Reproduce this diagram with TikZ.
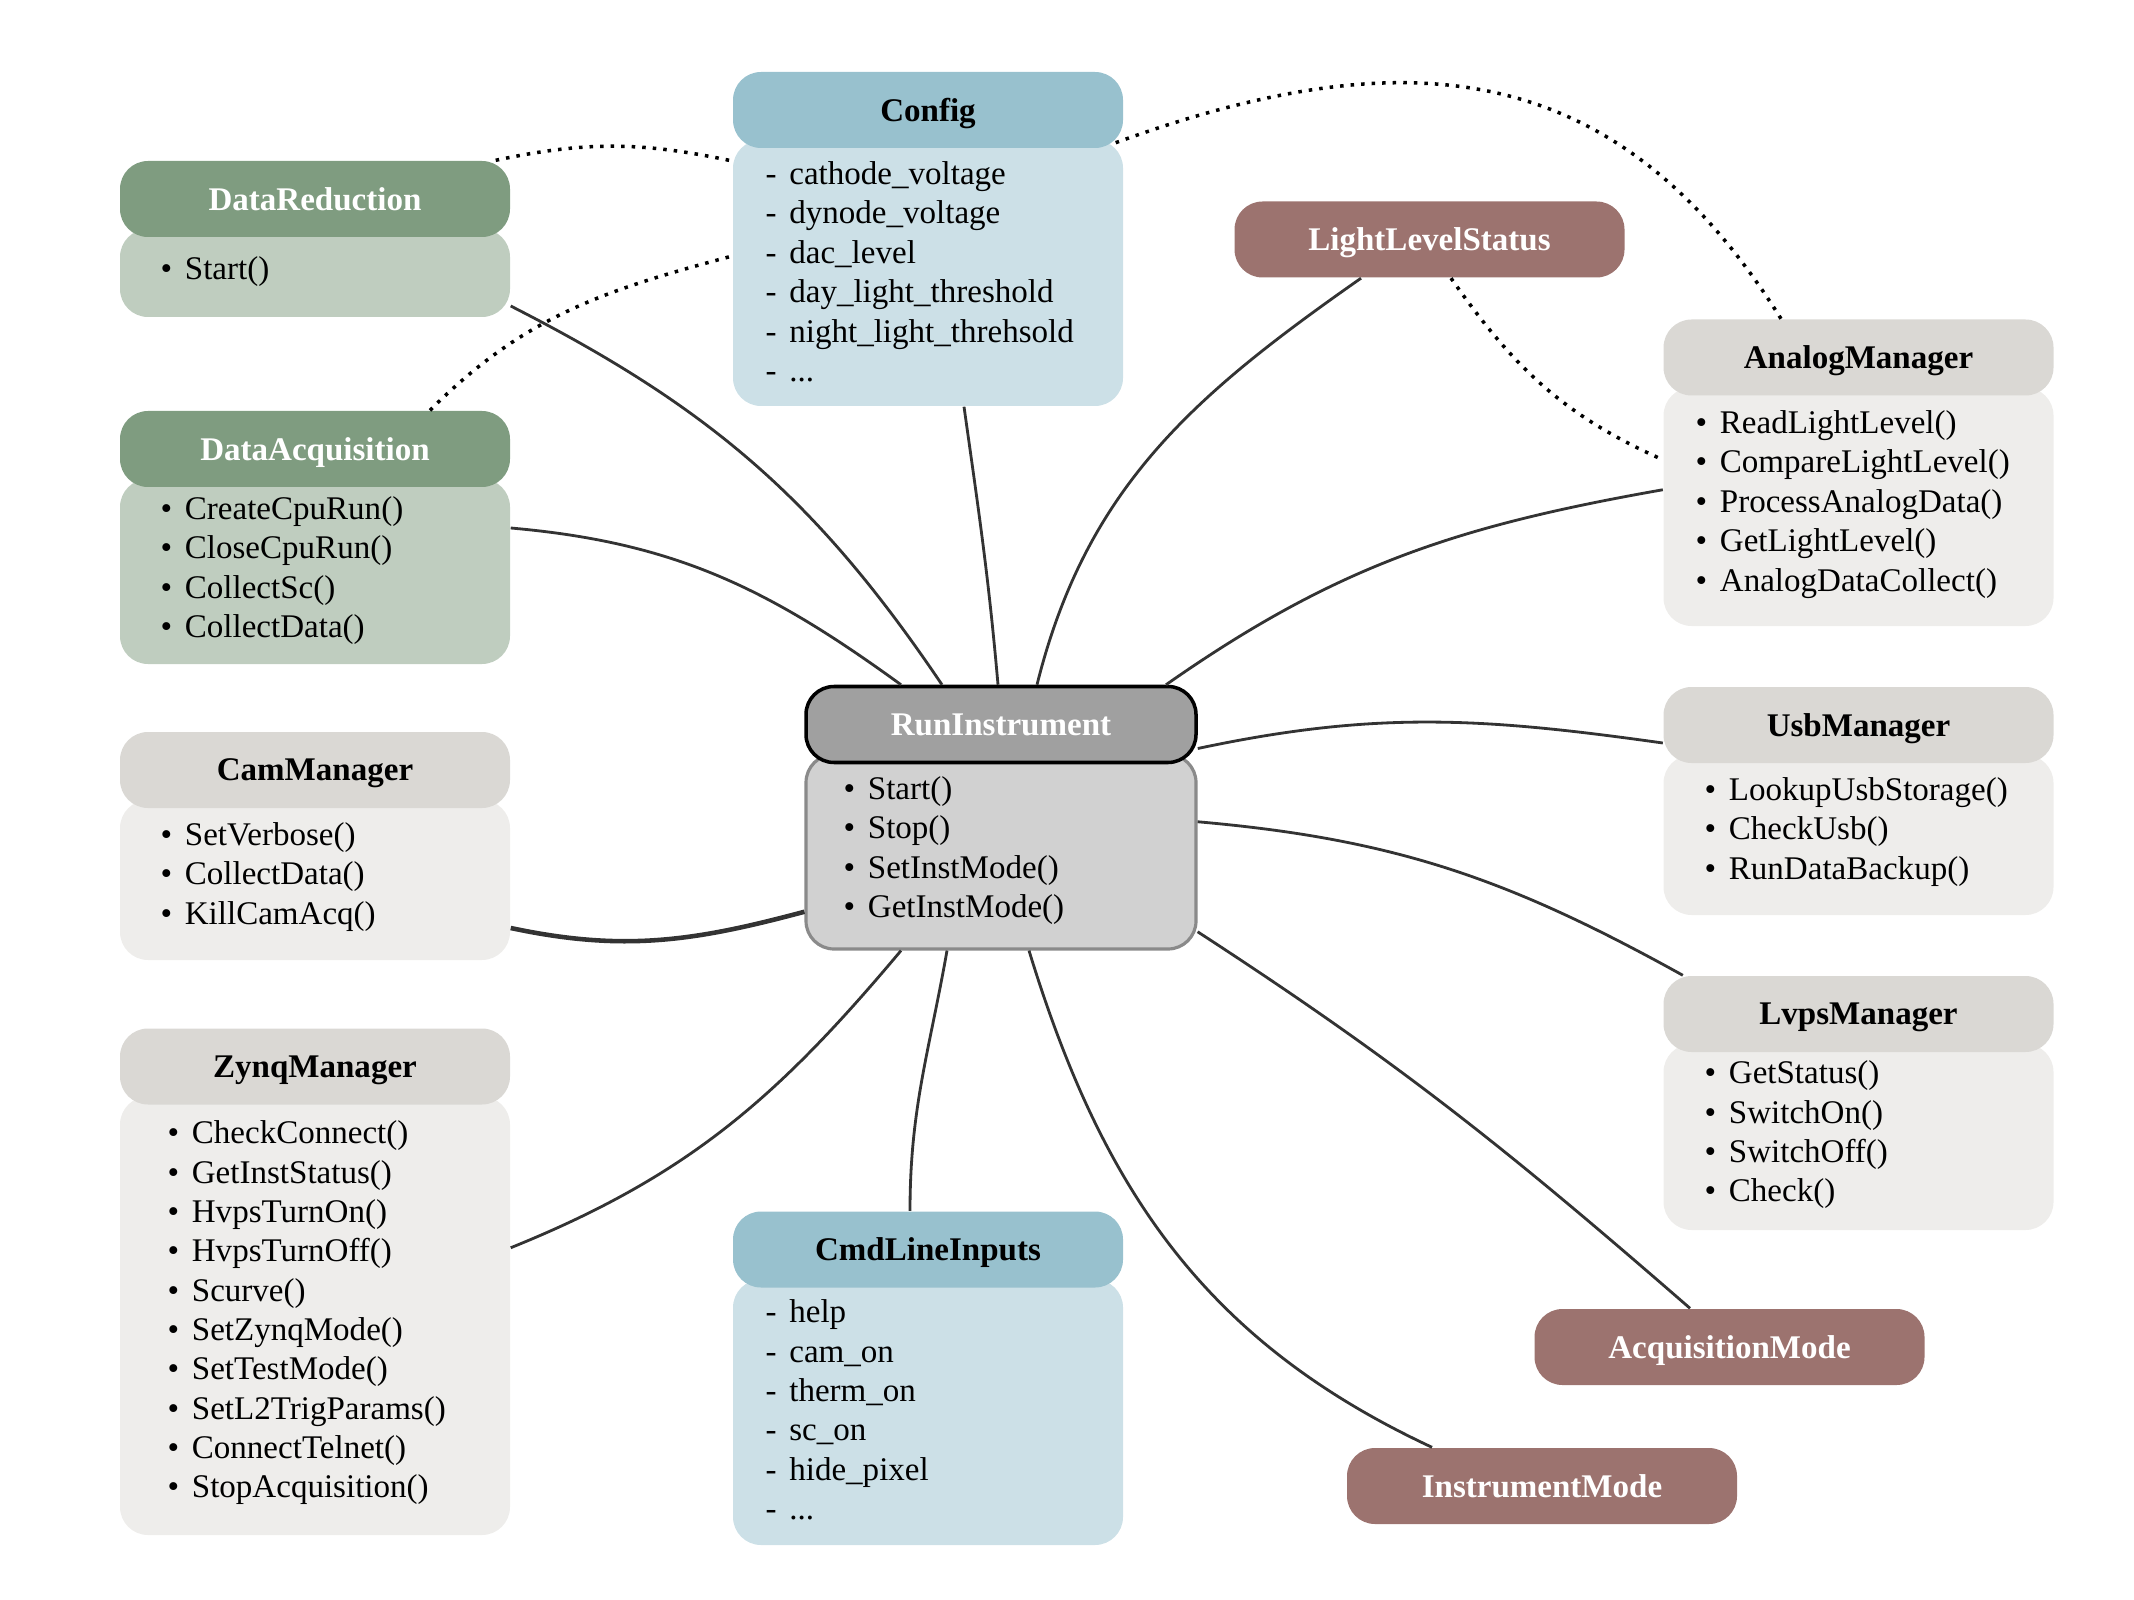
\documentclass[tikz,border=0pt]{standalone}
\usepackage{fontspec}
\setmainfont{Liberation Serif}
\usetikzlibrary{positioning}
\definecolor{UMLGreen}{HTML}{7F9C80}
\definecolor{UMLGreenLt}{HTML}{BFCDBF}
\definecolor{UMLBlue}{HTML}{98C1CE}
\definecolor{UMLBlueLt}{HTML}{CCE0E7}
\definecolor{UMLGray}{HTML}{DAD8D4}
\definecolor{UMLGrayLt}{HTML}{EEEDEB}
\definecolor{UMLBrown}{HTML}{9C736F}
\definecolor{UMLRun}{HTML}{A0A0A0}
\definecolor{UMLRunLt}{HTML}{D1D1D1}
\definecolor{UMLRunEdge}{HTML}{8A8A8A}
\definecolor{UMLLine}{HTML}{333333}
\tikzset{
  head/.style={rounded corners=2.8mm,minimum width=3.9cm,minimum height=7.6mm,
               inner sep=0pt,text depth=0pt,font=\fontsize{9.4}{11.2}\selectfont\bfseries},
  headgreen/.style={head,fill=UMLGreen,text=white},
  headblue/.style={head,fill=UMLBlue},
  headgray/.style={head,fill=UMLGray},
  headbrown/.style={head,fill=UMLBrown,text=white},
  headrun/.style={head,fill=UMLRun,draw=black,line width=1pt,text=white},
  bodybox/.style={rounded corners=2.8mm,minimum width=3.9cm,inner sep=0pt},
  bodygreen/.style={bodybox,fill=UMLGreenLt},
  bodyblue/.style={bodybox,fill=UMLBlueLt},
  bodygray/.style={bodybox,fill=UMLGrayLt},
  bodyrun/.style={bodybox,fill=UMLRunLt,draw=UMLRunEdge,line width=0.9pt},
  items/.style={anchor=north west,align=left,inner sep=0pt,
                font=\fontsize{9.4}{11.2}\selectfont},
  wire/.style={UMLLine,line width=0.8pt},
  wirethick/.style={wire,line width=1.3pt},
  assoc/.style={black,dotted,line width=1pt},
}
\newcommand{\methitem}{\textbullet\hspace{3.6pt}}
\newcommand{\attritem}{-\hspace{3.6pt}}

\begin{document}
\begin{tikzpicture}[x=1cm,y=-1cm]
  \useasboundingbox (0,0) rectangle (21.34,16);

  % the instrument in the middle
  \node[bodyrun,minimum height=1.945cm] (runbody) at (10.01,8.5175) {};
  \node[headrun] (runhead) at (10.01,7.245) {RunInstrument};
  \node[items] (runlist) at (8.43,7.76)
    {\methitem Start()\\ \methitem Stop()\\ \methitem SetInstMode()\\ \methitem GetInstMode()};

  % left column
  \node[bodygreen,minimum height=0.88cm] (redbody) at (3.15,2.73) {};
  \node[headgreen] (redhead) at (3.15,1.99) {DataReduction};
  \node[items] (redlist) at (1.60,2.56) {\methitem Start()};

  \node[bodygreen,minimum height=1.85cm] (acqbody) at (3.15,5.715) {};
  \node[headgreen] (acqhead) at (3.15,4.49) {DataAcquisition};
  \node[items] (acqlist) at (1.60,4.96)
    {\methitem CreateCpuRun()\\ \methitem CloseCpuRun()\\ \methitem CollectSc()\\ \methitem CollectData()};

  \node[bodygray,minimum height=1.60cm] (cambody) at (3.15,8.80) {};
  \node[headgray] (camhead) at (3.15,7.70) {CamManager};
  \node[items] (camlist) at (1.60,8.22)
    {\methitem SetVerbose()\\ \methitem CollectData()\\ \methitem KillCamAcq()};

  \node[bodygray,minimum height=4.385cm] (zynqbody) at (3.15,13.1575) {};
  \node[headgray] (zynqhead) at (3.15,10.665) {ZynqManager};
  \node[items] (zynqlist) at (1.67,11.20)
    {\methitem CheckConnect()\\ \methitem GetInstStatus()\\ \methitem HvpsTurnOn()\\
     \methitem HvpsTurnOff()\\ \methitem Scurve()\\ \methitem SetZynqMode()\\
     \methitem SetTestMode()\\ \methitem SetL2TrigParams()\\ \methitem ConnectTelnet()\\
     \methitem StopAcquisition()};

  % middle column: settings
  \node[bodyblue,minimum height=2.66cm] (cfgbody) at (9.28,2.73) {};
  \node[headblue] (cfghead) at (9.28,1.10) {Config};
  \node[items] (cfglist) at (7.65,1.61)
    {\attritem cathode\_voltage\\ \attritem dynode\_voltage\\ \attritem dac\_level\\
     \attritem day\_light\_threshold\\ \attritem night\_light\_threhsold\\ \attritem ...};

  \node[bodyblue,minimum height=2.655cm] (cmdbody) at (9.28,14.1225) {};
  \node[headblue] (cmdhead) at (9.28,12.495) {CmdLineInputs};
  \node[items] (cmdlist) at (7.65,12.99)
    {\attritem help\\ \attritem cam\_on\\ \attritem therm\_on\\ \attritem sc\_on\\
     \attritem hide\_pixel\\ \attritem ...};

  % right column
  \node[headbrown] (lighthead) at (14.295,2.395) {LightLevelStatus};

  \node[bodygray,minimum height=2.385cm] (anabody) at (18.585,5.0675) {};
  \node[headgray] (anahead) at (18.585,3.575) {AnalogManager};
  \node[items] (analist) at (16.95,4.10)
    {\methitem ReadLightLevel()\\ \methitem CompareLightLevel()\\ \methitem ProcessAnalogData()\\
     \methitem GetLightLevel()\\ \methitem AnalogDataCollect()};

  \node[bodygray,minimum height=1.60cm] (usbbody) at (18.585,8.35) {};
  \node[headgray] (usbhead) at (18.585,7.25) {UsbManager};
  \node[items] (usblist) at (17.04,7.77)
    {\methitem LookupUsbStorage()\\ \methitem CheckUsb()\\ \methitem RunDataBackup()};

  \node[bodygray,minimum height=1.86cm] (lvpsbody) at (18.585,11.37) {};
  \node[headgray] (lvpshead) at (18.585,10.14) {LvpsManager};
  \node[items] (lvpslist) at (17.04,10.60)
    {\methitem GetStatus()\\ \methitem SwitchOn()\\ \methitem SwitchOff()\\ \methitem Check()};

  \node[headbrown] (acqmode) at (17.295,13.47) {AcquisitionMode};
  \node[headbrown] (instmode) at (15.42,14.86) {InstrumentMode};

  % links into RunInstrument
  \draw[wire] ([yshift=-0.33cm]redbody.east) to[out=-27,in=124] ([xshift=-0.59cm]runhead.north);
  \draw[wire] ([yshift=0.435cm]acqbody.east) to[out=-5,in=144] ([xshift=-1cm]runhead.north);
  \draw[wire] ([xshift=0.36cm]cfgbody.south) to[out=-82,in=95] ([xshift=-0.03cm]runhead.north);
  \draw[wire] ([xshift=-0.685cm]lighthead.south) to[out=-145,in=76] ([xshift=0.36cm]runhead.north);
  \draw[wire] ([yshift=0.17cm]anabody.west) to[out=-170,in=35] ([xshift=1.65cm]runhead.north);
  \draw[wire] ([yshift=-0.18cm]usbhead.west) to[out=172,in=12] ([yshift=-0.24cm]runhead.east);
  \draw[wire] ([xshift=0.2cm]lvpshead.north west) to[out=151,in=-5] ([yshift=0.30cm]runbody.east);
  \draw[wire] ([xshift=-0.395cm]acqmode.north) to[out=139,in=-33] ([yshift=-0.8cm]runbody.east);
  \draw[wire] ([xshift=-1.10cm]instmode.north) to[out=155,in=-73] ([xshift=0.28cm]runbody.south);
  \draw[wire] ([xshift=-0.18cm]cmdhead.north) to[out=90,in=-100] ([xshift=-0.54cm]runbody.south);
  \draw[wire] ([yshift=0.68cm]zynqbody.east) to[out=22,in=-130] ([xshift=-1cm]runbody.south);
  \draw[wirethick] ([yshift=-0.48cm]cambody.east) to[out=-12,in=-165] ([yshift=-0.60cm]runbody.west);

  % dotted associations
  \draw[assoc] ([xshift=-0.15cm]redhead.north east) to[out=12,in=168] ([yshift=1.12cm]cfgbody.west);
  \draw[assoc] ([xshift=1.15cm]acqhead.north) to[out=45,in=-165] ([yshift=0.17cm]cfgbody.west);
  \draw[assoc] ([xshift=-0.08cm,yshift=0.06cm]cfghead.south east) to[out=20,in=122,looseness=1.15] ([xshift=-0.775cm]anahead.north);
  \draw[assoc] ([xshift=0.215cm]lighthead.south) to[out=-55,in=156] ([yshift=0.47cm]anabody.west);
\end{tikzpicture}
\end{document}
